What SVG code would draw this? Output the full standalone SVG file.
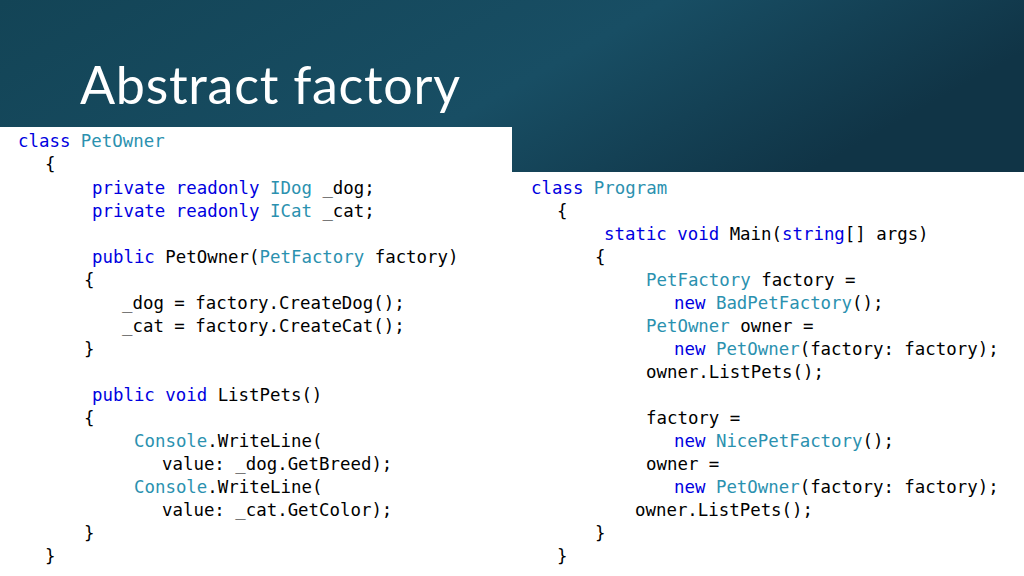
<svg xmlns="http://www.w3.org/2000/svg" width="1024" height="576" viewBox="0 0 1024 576">
<defs>
<linearGradient id="hg" x1="0" y1="0" x2="1" y2="0.3">
<stop offset="0" stop-color="#134456"/><stop offset="0.6" stop-color="#184e64"/><stop offset="1" stop-color="#103446"/>
</linearGradient>
<style>
.c{font-family:"DejaVu Sans Mono","Liberation Mono",monospace;font-size:17.4px;fill:#000;white-space:pre}
.k{fill:#0000e0}.t{fill:#2b91af}
</style>
</defs>
<rect width="1024" height="576" fill="#fff"/>
<rect width="1024" height="172" fill="url(#hg)"/>
<rect x="0" y="127" width="512" height="449" fill="#fff"/>
<text x="80" y="104" font-family="Lato,'Open Sans',sans-serif" font-size="52" fill="#fff" textLength="380">Abstract factory</text>
<g id="petowner">
<text class="c" x="18" y="147"><tspan class="k">class</tspan> <tspan class="t">PetOwner</tspan></text>
<text class="c" x="45" y="170">{</text>
<text class="c" x="92" y="194"><tspan class="k">private readonly</tspan> <tspan class="t">IDog</tspan> _dog;</text>
<text class="c" x="92" y="217"><tspan class="k">private readonly</tspan> <tspan class="t">ICat</tspan> _cat;</text>
<text class="c" x="92" y="263"><tspan class="k">public</tspan> PetOwner(<tspan class="t">PetFactory</tspan> factory)</text>
<text class="c" x="84" y="286">{</text>
<text class="c" x="122" y="309">_dog = factory.CreateDog();</text>
<text class="c" x="122" y="332">_cat = factory.CreateCat();</text>
<text class="c" x="84" y="355">}</text>
<text class="c" x="92" y="401"><tspan class="k">public void</tspan> ListPets()</text>
<text class="c" x="84" y="424">{</text>
<text class="c" x="134" y="447"><tspan class="t">Console</tspan>.WriteLine(</text>
<text class="c" x="162" y="470">value: _dog.GetBreed);</text>
<text class="c" x="134" y="493"><tspan class="t">Console</tspan>.WriteLine(</text>
<text class="c" x="162" y="516">value: _cat.GetColor);</text>
<text class="c" x="84" y="539">}</text>
<text class="c" x="45" y="562">}</text>
</g>
<g id="program">
<text class="c" x="531" y="194"><tspan class="k">class</tspan> <tspan class="t">Program</tspan></text>
<text class="c" x="557" y="217">{</text>
<text class="c" x="604" y="240"><tspan class="k">static void</tspan> Main(<tspan class="k">string</tspan>[] args)</text>
<text class="c" x="595" y="263">{</text>
<text class="c" x="646" y="286"><tspan class="t">PetFactory</tspan> factory =</text>
<text class="c" x="674" y="309"><tspan class="k">new</tspan> <tspan class="t">BadPetFactory</tspan>();</text>
<text class="c" x="646" y="332"><tspan class="t">PetOwner</tspan> owner =</text>
<text class="c" x="674" y="355"><tspan class="k">new</tspan> <tspan class="t">PetOwner</tspan>(factory: factory);</text>
<text class="c" x="646" y="378">owner.ListPets();</text>
<text class="c" x="646" y="424">factory =</text>
<text class="c" x="674" y="447"><tspan class="k">new</tspan> <tspan class="t">NicePetFactory</tspan>();</text>
<text class="c" x="646" y="470">owner =</text>
<text class="c" x="674" y="493"><tspan class="k">new</tspan> <tspan class="t">PetOwner</tspan>(factory: factory);</text>
<text class="c" x="635" y="516">owner.ListPets();</text>
<text class="c" x="595" y="539">}</text>
<text class="c" x="557" y="562">}</text>
</g>
<g id="connectors"/>
</svg>
